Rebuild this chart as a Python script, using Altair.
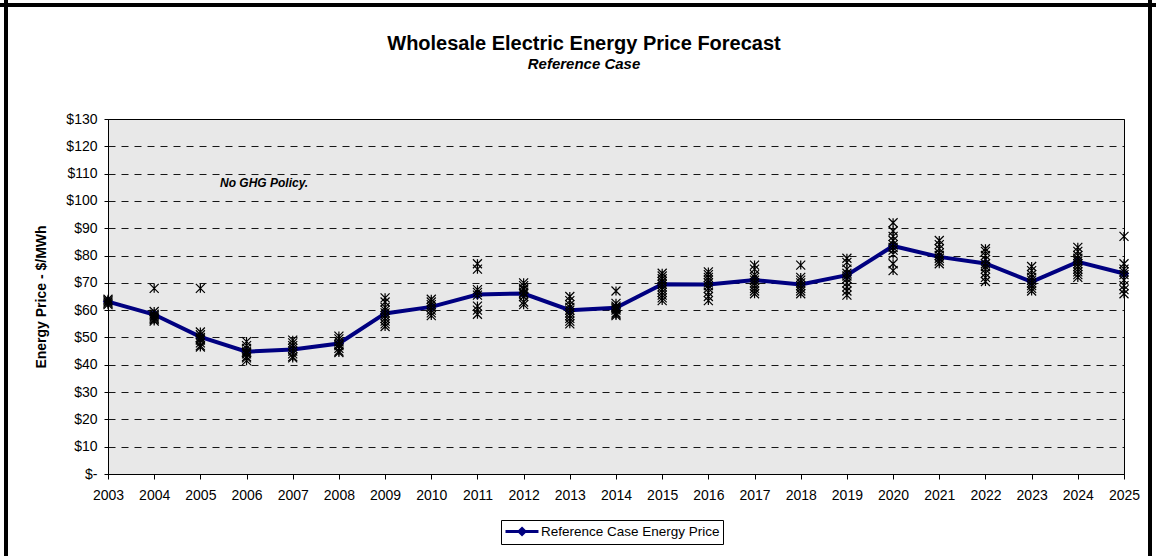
import altair as alt
import pandas as pd

FONT = "Liberation Sans"
NAVY = "#000080"

# ---------------- data ----------------
years = list(range(2003, 2026))
reference_price = [63.1, 58.4, 50.2, 44.8, 45.6, 47.8, 58.8, 61.2, 65.7, 66.1, 60.0,
                   60.9, 69.5, 69.4, 71.0, 69.4, 72.8, 83.5, 79.5, 77.1, 70.4, 77.7, 73.4]
scenario_prices = [
    [64, 63.5, 63, 62.5, 62],                                   # 2003
    [68, 59.5, 58.5, 58, 57.5, 57, 56.5, 56],                   # 2004
    [68, 52, 51, 50, 49.5, 49, 48, 47, 46.5],                   # 2005
    [48.5, 47, 46, 45, 44.5, 44, 43, 42.5, 41.5],               # 2006
    [49, 48, 47, 46, 45, 44, 43, 42.5],                         # 2007
    [50.5, 49.5, 48.5, 47.5, 47, 46, 45, 44.5],                 # 2008
    [64.5, 63, 61, 60, 59, 58, 57, 56, 55, 54],                 # 2009
    [64, 63, 62, 61, 60, 59, 58],                               # 2010
    [77, 75, 67.5, 66.5, 65.5, 61.5, 60, 58.5],                 # 2011
    [70, 69, 68, 67.5, 66.5, 66, 65, 63, 62],                   # 2012
    [65, 63.5, 62, 61, 60, 59, 58, 57, 56, 55],                 # 2013
    [67, 62.5, 61.5, 61, 60.5, 60, 59, 58.5, 58],               # 2014
    [73.5, 72.5, 71.5, 70.5, 69.5, 68.5, 67.5, 66.5, 65.5, 64.5, 63.5],  # 2015
    [74, 73, 72, 71, 70, 69, 68, 66.5, 65, 63.5],               # 2016
    [76.5, 75, 73, 72, 71, 70, 69, 68, 67, 66],                 # 2017
    [76.5, 72, 71, 70, 69, 68, 67, 66],                         # 2018
    [79, 77.5, 75, 73.5, 72.5, 71.5, 70, 68.5, 67, 65.5],       # 2019
    [92, 89, 87, 85.5, 84, 83, 82, 80.5, 77, 74.5],             # 2020
    [85.5, 84, 82.5, 81, 80, 79, 78, 77],                       # 2021
    [82.5, 81.5, 80, 78.5, 77, 76, 75, 73.5, 72, 70.5],         # 2022
    [76, 74.5, 73, 72, 71, 70, 69, 68, 67],                     # 2023
    [83, 81.5, 80, 79, 78, 77, 76, 75, 74, 73, 72],             # 2024
    [87, 77, 75, 74, 73, 71, 69, 67.5, 66],                     # 2025
]
series_name = "Reference Case Energy Price"
y_ticks = list(range(0, 131, 10))
note_text = ["No GHG Policy."]
note_year = [2006.38]
note_price = [106.6]

ref_df = pd.DataFrame({"year": years, "price": reference_price, "series": series_name})
scen_df = pd.DataFrame(
    [{"year": y, "price": p} for y, ps in zip(years, scenario_prices) for p in ps]
)
note_df = pd.DataFrame({"year": note_year, "price": note_price, "label": note_text})

x_scale = alt.Scale(domain=[2003, 2025], nice=False, zero=False)
y_scale = alt.Scale(domain=[0, 130], nice=False, zero=True)

x_axis = alt.Axis(
    values=years, format="d", title=None, grid=False,
    labelFont=FONT, labelFontSize=14, labelColor="black", labelPadding=9,
    labelFlush=False, labelOverlap=False,
    tickSize=5, tickColor="black", domainColor="black", domainWidth=1,
)
y_axis = alt.Axis(
    values=y_ticks, title="Energy Price - $/MWh",
    labelExpr="datum.value == 0 ? '$-\u00a0\u00a0\u00a0' : '$' + datum.value",
    labelFont=FONT, labelFontSize=14, labelColor="black", labelPadding=7,
    tickSize=4, tickColor="black", domainColor="black", domainWidth=1,
    grid=True, gridColor="black", gridDash=[7, 6], gridWidth=1, gridOpacity=0.9,
    titleFont=FONT, titleFontSize=14, titleFontWeight="bold", titleColor="black",
    titleX=-67, titleY=177.5, titleAlign="center", titleBaseline="middle", titleAngle=270,
)

legend_symbol = "M-1,0L3.71,0M1.36,-0.42L1.78,0L1.36,0.42L0.94,0Z"

X = alt.X("year:Q", scale=x_scale, axis=x_axis)
Y = alt.Y("price:Q", scale=y_scale, axis=y_axis)

line = alt.Chart(ref_df).mark_line(
    strokeWidth=4,
    point=alt.OverlayMarkDef(shape="diamond", filled=True, size=110, color=NAVY),
).encode(
    x=X,
    y=Y,
    color=alt.Color(
        "series:N",
        scale=alt.Scale(domain=[series_name], range=[NAVY]),
        legend=alt.Legend(
            title=None, orient="none", legendX=393, legendY=401,
            symbolType=legend_symbol, symbolSize=196, symbolStrokeWidth=3,
            symbolStrokeColor=NAVY, symbolFillColor=NAVY,
            labelFont=FONT, labelFontSize=13.5, labelColor="black", labelOffset=20,
            labelLimit=400,
            padding=3, strokeColor="black", fillColor="white", cornerRadius=0,
        ),
    ),
)

scatter = alt.Chart(scen_df).mark_point(
    shape="M-1,-1L1,1M-1,1L1,-1M0,-1L0,1",
    filled=False, stroke="black", strokeWidth=1.2, size=81, opacity=1,
).encode(x=X, y=Y)

note = alt.Chart(note_df).mark_text(
    font=FONT, fontSize=12, fontWeight="bold", fontStyle="italic", color="black",
    align="center", baseline="middle",
).encode(x=X, y=Y, text="label:N")

frame_data = alt.Data(values=[{"k": 1}])
frame_left = alt.Chart(frame_data).mark_rule(color="black", strokeWidth=4).encode(
    x=alt.value(-102), y=alt.value(-119), y2=alt.value(437))
frame_top = alt.Chart(frame_data).mark_rule(color="black", strokeWidth=4).encode(
    y=alt.value(-114), x=alt.value(-108), x2=alt.value(1048))
frame_right = alt.Chart(frame_data).mark_rule(color="black", strokeWidth=4).encode(
    x=alt.value(1042), y=alt.value(-119), y2=alt.value(437))

chart = alt.layer(line, scatter, note, frame_left, frame_top, frame_right).properties(
    width=1016,
    height=355,
    autosize=alt.AutoSizeParams(type="none"),
    padding={"left": 108, "top": 119, "right": 32, "bottom": 82},
    background="white",
    title=alt.TitleParams(
        text="Wholesale Electric Energy Price Forecast",
        subtitle="Reference Case",
        font=FONT, fontSize=20, fontWeight="bold", color="black",
        subtitleFont=FONT, subtitleFontSize=15, subtitleFontWeight="bold",
        subtitleFontStyle="italic", subtitleColor="black", subtitlePadding=3,
        anchor="middle", frame="group", dx=-32, offset=0, dy=74,
    ),
).configure_view(
    fill="#E8E8E8", stroke="black", strokeWidth=1,
)

chart.save("out.html", embed_options={"renderer": "svg", "actions": False})
